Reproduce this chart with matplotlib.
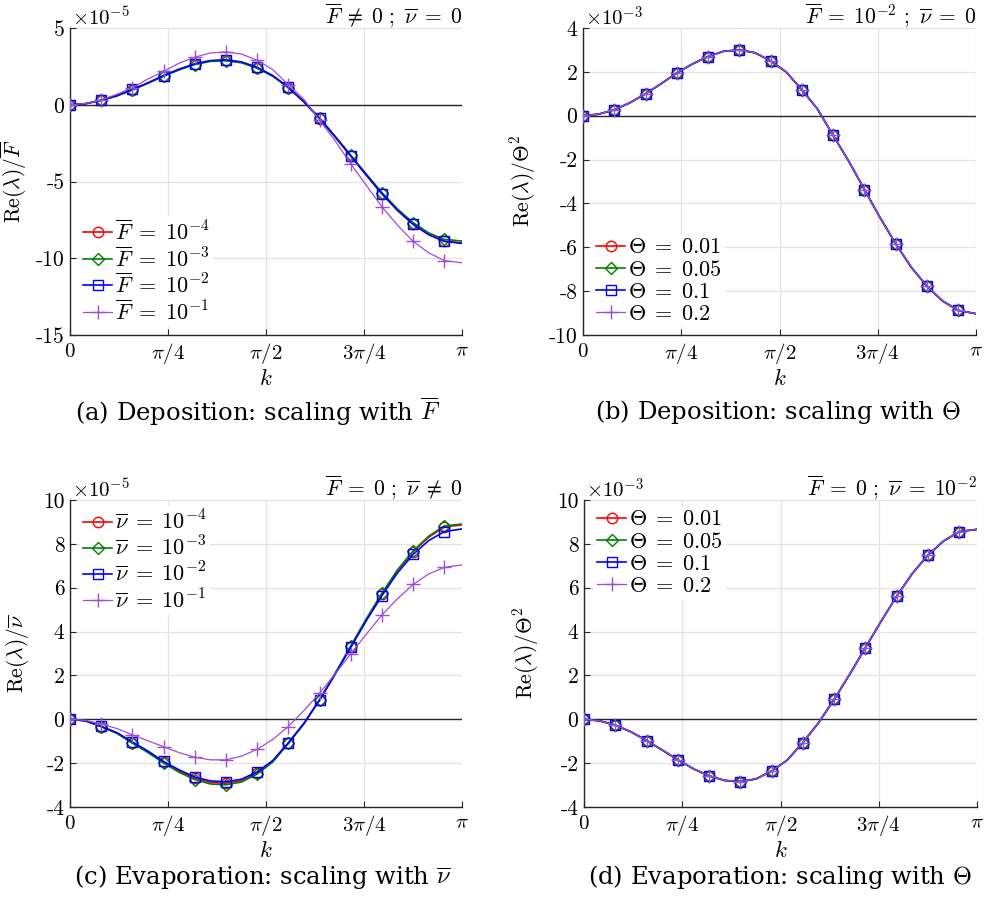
import numpy as np
import matplotlib.pyplot as plt

plt.rcParams['mathtext.fontset'] = 'cm'
plt.rcParams['axes.unicode_minus'] = False

# wavenumber grid (markers every 0.25)
k = [0.0, 0.125, 0.25, 0.375, 0.5, 0.625, 0.75, 0.875, 1.0, 1.125, 1.25, 1.375, 1.5,
     1.625, 1.75, 1.875, 2.0, 2.125, 2.25, 2.375, 2.5, 2.625, 2.75, 2.875, 3.0, np.pi]

# (a) deposition, Re(lambda)/F  (x 1e-5)
dep_F4 = [0, 0.07, 0.30, 0.58, 0.99, 1.42, 1.89, 2.30, 2.65, 2.85, 2.90, 2.76, 2.41,
          1.88, 1.12, 0.18, -0.90, -2.10, -3.35, -4.60, -5.80, -6.88, -7.78, -8.45, -8.88, -9.00]
dep_F3 = [0, 0.07, 0.29, 0.57, 0.97, 1.40, 1.86, 2.27, 2.62, 2.82, 2.87, 2.73, 2.38,
          1.86, 1.12, 0.20, -0.86, -2.05, -3.28, -4.52, -5.72, -6.79, -7.68, -8.35, -8.77, -8.88]
dep_F2 = [0, 0.07, 0.30, 0.59, 1.00, 1.43, 1.90, 2.32, 2.67, 2.88, 2.93, 2.79, 2.44,
          1.90, 1.14, 0.19, -0.89, -2.09, -3.33, -4.58, -5.80, -6.88, -7.79, -8.47, -8.90, -9.03]
dep_F1 = [0, 0.08, 0.31, 0.68, 1.12, 1.68, 2.17, 2.71, 3.10, 3.37, 3.45, 3.30, 2.90,
          2.29, 1.30, 0.35, -1.00, -2.35, -3.85, -5.25, -6.65, -7.85, -8.90, -9.65, -10.15, -10.30]

# (b) deposition, Re(lambda)/Theta^2  (x 1e-3), all four Theta collapse
dep_th = [0, 0.07, 0.27, 0.59, 1.00, 1.46, 1.95, 2.36, 2.70, 2.94, 3.00, 2.87, 2.50,
          1.99, 1.18, 0.30, -0.90, -2.08, -3.37, -4.65, -5.84, -6.92, -7.78, -8.45, -8.88, -9.03]

# (c) evaporation, Re(lambda)/nu  (x 1e-5)
eva_n4 = [0, -0.07, -0.33, -0.62, -1.06, -1.48, -1.96, -2.36, -2.69, -2.88, -2.92, -2.80, -2.46,
          -1.92, -1.09, -0.20, 0.88, 2.08, 3.31, 4.55, 5.71, 6.78, 7.64, 8.30, 8.78, 8.86]
eva_n3 = [0, -0.07, -0.34, -0.64, -1.09, -1.52, -2.00, -2.42, -2.75, -2.95, -2.99, -2.86, -2.50,
          -1.95, -1.10, -0.20, 0.88, 2.10, 3.34, 4.59, 5.75, 6.82, 7.68, 8.35, 8.82, 8.90]
eva_n2 = [0, -0.07, -0.32, -0.61, -1.03, -1.45, -1.92, -2.31, -2.63, -2.81, -2.85, -2.73, -2.40,
          -1.88, -1.07, -0.18, 0.88, 2.05, 3.28, 4.50, 5.64, 6.68, 7.52, 8.15, 8.56, 8.68]
eva_n1 = [0, -0.05, -0.21, -0.42, -0.71, -0.98, -1.25, -1.52, -1.73, -1.85, -1.85, -1.68, -1.37,
          -0.92, -0.33, 0.40, 1.19, 2.07, 2.98, 3.88, 4.76, 5.50, 6.15, 6.63, 6.93, 7.04]

# (d) evaporation, Re(lambda)/Theta^2  (x 1e-3)
eva_th = [0, -0.07, -0.27, -0.57, -0.97, -1.40, -1.85, -2.26, -2.58, -2.79, -2.84, -2.72, -2.36,
          -1.86, -1.06, -0.16, 0.91, 2.06, 3.27, 4.47, 5.62, 6.65, 7.49, 8.13, 8.56, 8.66]

F_labels = [r'$\overline{F}\;=\;10^{-4}$', r'$\overline{F}\;=\;10^{-3}$',
            r'$\overline{F}\;=\;10^{-2}$', r'$\overline{F}\;=\;10^{-1}$']
nu_labels = [r'$\overline{\nu}\;=\;10^{-4}$', r'$\overline{\nu}\;=\;10^{-3}$',
             r'$\overline{\nu}\;=\;10^{-2}$', r'$\overline{\nu}\;=\;10^{-1}$']
th_labels = [r'$\Theta\;=\;0.01$', r'$\Theta\;=\;0.05$', r'$\Theta\;=\;0.1$', r'$\Theta\;=\;0.2$']

xticks = [0, np.pi / 4, np.pi / 2, 3 * np.pi / 4, np.pi]
xticklabels = [r'$0$', r'$\pi/4$', r'$\pi/2$', r'$3\pi/4$', r'$\pi$']

colors = ['#ff0000', '#008000', '#0000ff', '#9b4fd6']
markers = ['o', 'D', 's', '+']
msizes = [7.5, 6.5, 6.5, 10]
lws = [1.2, 1.2, 1.2, 0.9]

W, H = 984, 911
fig = plt.figure(figsize=(W / 100, H / 100), dpi=100)


def make_axes(left, top, right, bottom):
    return fig.add_axes([left / W, 1 - bottom / H, (right - left) / W, (bottom - top) / H])


def panel(ax, series, labels, yticks, ylabel, scale, note, leg_loc, leg_anchor, ylab_x):
    ax.axhline(0, color='#262626', lw=1.0, zorder=1.5)
    for i, y in enumerate(series):
        ax.plot(k, y, color=colors[i], lw=lws[i], marker=markers[i], ms=msizes[i],
                mfc='none', mec=colors[i], mew=1.0, markevery=slice(0, 25, 2),
                label=labels[i], zorder=2 + i)
    ax.set_xlim(0, np.pi)
    ax.set_ylim(yticks[0], yticks[-1])
    ax.set_xticks(xticks)
    ax.set_xticklabels(xticklabels, fontsize=15)
    ax.set_yticks(yticks)
    ax.set_yticklabels([str(t) for t in yticks], fontfamily='cmr10', fontsize=15.5)
    ax.tick_params(direction='in', length=4, width=0.8, color='#262626', pad=4)
    for s in ['top', 'right']:
        ax.spines[s].set_visible(False)
    for s in ['left', 'bottom']:
        ax.spines[s].set_color('#262626')
        ax.spines[s].set_linewidth(1.0)
    ax.grid(True, color='#e3e3e3', lw=0.9)
    ax.set_axisbelow(True)
    ax.set_xlabel(r'$k$', fontsize=16.5, labelpad=1)
    ax.set_ylabel(ylabel, fontsize=15.5)
    ax.yaxis.set_label_coords(ylab_x, 0.5)
    ax.text(0.005, 0.995, r'$\times 10^{%d}$' % scale, transform=ax.transAxes,
            ha='left', va='bottom', fontsize=15)
    ax.text(1.0, 1.017, note, transform=ax.transAxes, ha='right', va='baseline', fontsize=15.5)
    ax.legend(loc=leg_loc, bbox_to_anchor=leg_anchor, fontsize=16, frameon=True,
              fancybox=False, edgecolor='none', facecolor='white', framealpha=1,
              handlelength=1.3, handletextpad=0.15, labelspacing=0.1,
              borderpad=0.15, borderaxespad=0)


ax_a = make_axes(70, 28, 462, 335)
ax_b = make_axes(583, 28, 976, 335)
ax_c = make_axes(70, 500, 462, 807)
ax_d = make_axes(584, 500, 977, 807)

panel(ax_a, [dep_F4, dep_F3, dep_F2, dep_F1], F_labels, [-15, -10, -5, 0, 5],
      r'$\mathrm{Re}(\lambda)/\overline{F}$', -5,
      r'$\overline{F}\;\neq\;0\ ;\ \overline{\nu}\;=\;0$', 'lower left', (0.025, 0.025), -0.105)
panel(ax_b, [dep_th] * 4, th_labels, [-10, -8, -6, -4, -2, 0, 2, 4],
      r'$\mathrm{Re}(\lambda)/\Theta^2$', -3,
      r'$\overline{F}\;=\;10^{-2}\ ;\ \overline{\nu}\;=\;0$', 'lower left', (0.025, 0.025), -0.115)
panel(ax_c, [eva_n4, eva_n3, eva_n2, eva_n1], nu_labels, [-4, -2, 0, 2, 4, 6, 8, 10],
      r'$\mathrm{Re}(\lambda)/\overline{\nu}$', -5,
      r'$\overline{F}\;=\;0\ ;\ \overline{\nu}\;\neq\;0$', 'upper left', (0.025, 0.98), -0.1)
panel(ax_d, [eva_th] * 4, th_labels, [-4, -2, 0, 2, 4, 6, 8, 10],
      r'$\mathrm{Re}(\lambda)/\Theta^2$', -3,
      r'$\overline{F}\;=\;0\ ;\ \overline{\nu}\;=\;10^{-2}$', 'upper left', (0.025, 0.98), -0.11)

captions = [(258, 412, r'(a) Deposition: scaling with $\overline{F}$'),
            (778, 412, r'(b) Deposition: scaling with $\Theta$'),
            (263, 877, r'(c) Evaporation: scaling with $\overline{\nu}$'),
            (780, 877, r'(d) Evaporation: scaling with $\Theta$')]
for x, y, s in captions:
    fig.text(x / W, 1 - y / H, s, ha='center', va='center', fontsize=17.5,
             family='DejaVu Serif')

fig.savefig('out.png', dpi=100)
